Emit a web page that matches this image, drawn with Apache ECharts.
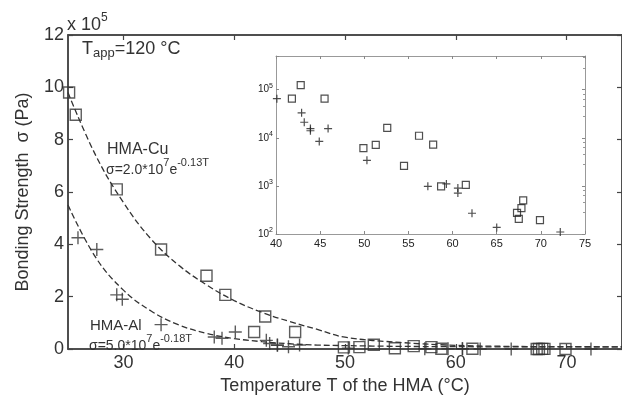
<!DOCTYPE html>
<html>
<head>
<meta charset="utf-8">
<script src="https://cdn.jsdelivr.net/npm/echarts@6/dist/echarts.min.js"></script>
<style>
  html, body { margin: 0; padding: 0; background: #fff; }
  #chart { width: 622px; height: 400px; }
</style>
</head>
<body>
<div id="chart"></div>
<script>
  // temperatures (°C) and bonding strength (Pa)
  var cuT = [25.1, 25.7, 29.4, 33.4, 37.5, 39.2, 41.8, 42.8, 45.5, 49.9, 51.3, 52.6, 54.5, 56.2, 57.8, 58.7, 61.5, 67.3, 67.5, 67.8, 68.0, 69.9];
  var cuSigma = [9.8e5, 8.95e5, 6.1e5, 3.8e5, 2.8e5, 2.07e5, 6.5e4, 1.24e5, 6.5e4, 6.1e3, 7.1e3, 1.6e4, 2.6e3, 1.1e4, 7.2e3, 980, 1050, 275, 207, 345, 500, 195];
  var alT = [25.9, 27.6, 29.4, 29.9, 33.4, 38.2, 38.9, 40.1, 42.9, 43.2, 43.9, 43.9, 44.9, 45.9, 50.3, 57.2, 59.3, 60.6, 60.6, 62.2, 65.0, 72.2];
  var alSigma = [4.25e5, 3.8e5, 2.07e5, 1.9e5, 9.3e4, 4.6e4, 4.1e4, 6.5e4, 3.3e4, 2.1e4, 1.55e4, 1.4e4, 8.4e3, 1.55e4, 3.4e3, 980, 1100, 900, 710, 270, 137, 110];

  // dashed fit curves (x 10^5 Pa)
  var fitT = [25, 27.5, 30, 32.5, 35, 37.5, 40, 42.5, 45, 47.5, 50, 55, 60, 65, 70, 75];
  var cuFit = [9.8, 7.4, 5.6, 4.2, 3.2, 2.45, 1.85, 1.4, 1.05, 0.75, 0.45, 0.25, 0.14, 0.1, 0.09, 0.08];
  var alFit = [5.5, 3.5, 2.25, 1.45, 0.92, 0.6, 0.4, 0.28, 0.2, 0.15, 0.13, 0.1, 0.09, 0.08, 0.08, 0.08];

  var mainTicks = [30, 40, 50, 60, 70];
  var insetExp = [2, 3, 4, 5];

  var font = 'Liberation Sans, Arial, sans-serif';
  var ink = '#333';
  var plus = 'path://M5,0L5,10M0,5L10,5';

  function pairs(xs, ys, scale) {
    return xs.map(function (x, i) { return [x, ys[i] / scale]; });
  }
  function insetPairs(xs, ys) {
    var out = [];
    xs.forEach(function (x, i) { if (x >= 40) out.push([x, ys[i]]); });
    return out;
  }
  function mainLine() {
    return { show: true, onZero: false, lineStyle: { color: '#444', width: 1.5 } };
  }
  function insetLine() {
    return { show: true, onZero: false, lineStyle: { color: '#999', width: 1 } };
  }
  function mainTick(custom) {
    var t = { show: true, inside: true, length: 5, lineStyle: { color: '#444', width: 1.2 } };
    if (custom) t.customValues = custom;
    return t;
  }
  function insetTick() {
    return { show: true, inside: true, length: 3, lineStyle: { color: '#888' } };
  }

  var chart = echarts.init(document.getElementById('chart'));

  chart.setOption({
    animation: false,
    backgroundColor: '#fff',
    grid: [
      // border draws the frame's top edge
      { left: 68, top: 35, width: 554, height: 315, show: true, borderColor: '#444', borderWidth: 1.5, backgroundColor: 'rgba(0,0,0,0)' },
      { left: 276, top: 56, width: 309, height: 178 }
    ],
    xAxis: [
      {
        gridIndex: 0, type: 'value', min: 25, max: 75,
        name: 'Temperature T of the HMA (°C)', nameLocation: 'middle', nameGap: 28,
        nameTextStyle: { fontFamily: font, fontSize: 18, color: ink },
        axisLine: mainLine(),
        axisTick: mainTick(mainTicks),
        axisLabel: { customValues: mainTicks, fontFamily: font, fontSize: 18, color: ink, margin: 5 },
        splitLine: { show: false }
      },
      {
        gridIndex: 0, type: 'value', min: 25, max: 75, position: 'top',
        axisLine: mainLine(),
        axisTick: mainTick(mainTicks),
        axisLabel: { show: true, customValues: mainTicks, formatter: function () { return ''; } },
        splitLine: { show: false }
      },
      {
        gridIndex: 1, type: 'value', min: 40, max: 75, interval: 5,
        axisLine: insetLine(),
        axisTick: insetTick(),
        axisLabel: { fontFamily: font, fontSize: 11, color: '#222', margin: 4 },
        splitLine: { show: false }
      },
      {
        gridIndex: 1, type: 'value', min: 40, max: 75, interval: 5, position: 'top',
        axisLine: insetLine(),
        axisTick: insetTick(),
        axisLabel: { show: false },
        splitLine: { show: false }
      }
    ],
    yAxis: [
      {
        gridIndex: 0, type: 'value', min: 0, max: 12, interval: 2,
        name: 'Bonding Strength  σ (Pa)', nameLocation: 'middle', nameGap: 36,
        nameTextStyle: { fontFamily: font, fontSize: 18, color: ink },
        axisLine: mainLine(),
        axisTick: mainTick(),
        axisLabel: { fontFamily: font, fontSize: 18, color: ink, margin: 4 },
        splitLine: { show: false }
      },
      {
        gridIndex: 0, type: 'value', min: 0, max: 12, interval: 2, position: 'right',
        axisLine: mainLine(),
        axisTick: mainTick(),
        axisLabel: { show: false },
        splitLine: { show: false }
      },
      {
        gridIndex: 1, type: 'log', logBase: 10, min: 100, max: 5e5,
        axisLine: insetLine(),
        axisTick: insetTick(),
        axisLabel: {
          margin: 3,
          formatter: function (v) {
            var e = Math.round(Math.log10(v));
            if (Math.abs(Math.log10(v) - e) > 1e-6 || insetExp.indexOf(e) < 0) return '';
            return '{b|10}{s|' + e + '}';
          },
          rich: {
            b: { fontFamily: font, fontSize: 10, color: '#222', lineHeight: 14 },
            s: { fontFamily: font, fontSize: 7, color: '#222', lineHeight: 8, verticalAlign: 'top' }
          }
        },
        splitLine: { show: false }
      },
      {
        gridIndex: 1, type: 'log', logBase: 10, min: 100, max: 5e5, position: 'right',
        axisLine: insetLine(),
        axisTick: insetTick(),
        minorTick: { show: true, splitNumber: 5, length: 2, lineStyle: { color: '#999' } },
        axisLabel: { show: false },
        splitLine: { show: false }
      }
    ],
    series: [
      {
        name: 'HMA-Cu fit', type: 'line', xAxisIndex: 0, yAxisIndex: 0, smooth: 0.4,
        showSymbol: false, data: pairs(fitT, cuFit, 1),
        lineStyle: { color: ink, width: 1.3, type: [6, 3] }, z: 2
      },
      {
        name: 'HMA-Al fit', type: 'line', xAxisIndex: 0, yAxisIndex: 0, smooth: 0.4,
        showSymbol: false, data: pairs(fitT, alFit, 1),
        lineStyle: { color: ink, width: 1.3, type: [6, 3] }, z: 2
      },
      {
        name: 'HMA-Cu', type: 'scatter', xAxisIndex: 0, yAxisIndex: 0,
        symbol: 'rect', symbolSize: 11, data: pairs(cuT, cuSigma, 1e5),
        itemStyle: { color: 'rgba(0,0,0,0)', borderColor: ink, borderWidth: 1.4 }, z: 4
      },
      {
        name: 'HMA-Al', type: 'scatter', xAxisIndex: 0, yAxisIndex: 0,
        symbol: plus, symbolSize: 13, data: pairs(alT, alSigma, 1e5),
        itemStyle: { color: 'rgba(0,0,0,0)', borderColor: ink, borderWidth: 1.4 }, z: 4
      },
      {
        name: 'HMA-Cu log', type: 'scatter', xAxisIndex: 2, yAxisIndex: 2,
        symbol: 'rect', symbolSize: 7, data: insetPairs(cuT, cuSigma),
        itemStyle: { color: 'rgba(0,0,0,0)', borderColor: '#222', borderWidth: 1.2 }, z: 5
      },
      {
        name: 'HMA-Al log', type: 'scatter', xAxisIndex: 2, yAxisIndex: 2,
        symbol: plus, symbolSize: 8, data: insetPairs(alT, alSigma),
        itemStyle: { color: 'rgba(0,0,0,0)', borderColor: '#222', borderWidth: 1.2 }, z: 5
      }
    ],
    graphic: [
      {
        type: 'text', left: 67, top: 12, z: 10,
        style: {
          text: '{n|x 10}{s|5}',
          rich: {
            n: { fontFamily: font, fontSize: 18, fill: ink, lineHeight: 22, verticalAlign: 'bottom' },
            s: { fontFamily: font, fontSize: 12, fill: ink, lineHeight: 12, verticalAlign: 'top' }
          }
        }
      },
      {
        type: 'text', left: 82, top: 40, z: 10,
        style: {
          text: '{n|T}{b|app}{n|=120 °C}',
          rich: {
            n: { fontFamily: font, fontSize: 18, fill: ink, lineHeight: 20, verticalAlign: 'top' },
            b: { fontFamily: font, fontSize: 13, fill: ink, lineHeight: 14, verticalAlign: 'bottom' }
          }
        }
      },
      {
        type: 'text', left: 107, top: 142, z: 10,
        style: { text: 'HMA-Cu', fontFamily: font, fontSize: 16, fill: ink }
      },
      {
        type: 'text', left: 106, top: 157, z: 10,
        style: {
          text: '{n|σ=2.0*10}{s|7}{n|e}{s|-0.13T}',
          rich: {
            n: { fontFamily: font, fontSize: 14, fill: ink, lineHeight: 20, verticalAlign: 'bottom' },
            s: { fontFamily: font, fontSize: 11, fill: ink, lineHeight: 12, verticalAlign: 'top' }
          }
        }
      },
      {
        type: 'text', left: 90, top: 318, z: 10,
        style: { text: 'HMA-Al', fontFamily: font, fontSize: 15, fill: ink }
      },
      {
        type: 'text', left: 89, top: 333, z: 10,
        style: {
          text: '{n|σ=5.0*10}{s|7}{n|e}{s|-0.18T}',
          rich: {
            n: { fontFamily: font, fontSize: 14, fill: ink, lineHeight: 20, verticalAlign: 'bottom' },
            s: { fontFamily: font, fontSize: 11, fill: ink, lineHeight: 12, verticalAlign: 'top' }
          }
        }
      }
    ]
  });
</script>
</body>
</html>
